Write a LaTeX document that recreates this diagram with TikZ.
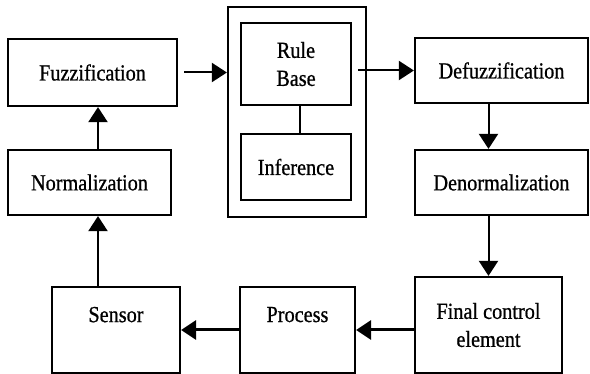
\documentclass[tikz,border=0pt]{standalone}
\usepackage{fontspec}
\setmainfont{Liberation Serif}[FakeStretch=0.88,FakeBold=0.8]
\usetikzlibrary{arrows.meta,positioning,calc}

\begin{document}
\begin{tikzpicture}[
  x=1pt, y=-1pt, >={Triangle[length=15pt,width=19pt]},
  box/.style={draw, line width=2.2pt, align=center, inner sep=0pt, font=\fontsize{23}{28}\selectfont},
  wide/.style={box, minimum width=173pt, minimum height=65pt},
  lowbox/.style={box, minimum height=86pt, text depth=31pt},
  every edge/.style={draw, ->, line width=2pt}
]
\useasboundingbox (0,0) rectangle (590,374);
% left column
\node[box, minimum width=169pt, minimum height=67pt] (fuzz) at (92.5,72.5) {Fuzzification};
\node[box, minimum width=163pt, minimum height=65pt] (norm) at (89.5,182.5) {Normalization};
\node[lowbox, minimum width=128pt] (sensor) at (116,330) {Sensor};
% inference engine
\node[box, minimum width=138pt, minimum height=210pt] (outer) at (297,112) {};
\node[box, minimum width=110pt, minimum height=82pt] (rule) at (296,64) {Rule\\Base};
\node[box, minimum width=110pt, minimum height=66pt] (infer) at (296,167) {Inference};
% right column
\node[wide] (defuzz) at (501.5,70.5) {Defuzzification};
\node[wide] (denorm) at (501.5,182.5) {Denormalization};
\node[box, minimum width=147pt, minimum height=96pt] (final) at (488.5,325) {Final control\\element};
\node[lowbox, minimum width=115pt] (proc) at (297.5,330) {Process};

\draw[line width=2pt] ($(rule.south)+(4,0)$) -- ($(rule.south |- infer.north)+(4,0)$);
\draw (fuzz.east) edge[shorten <=6pt] (fuzz.east -| outer.west);
\draw ($(outer.east |- defuzz.west)+(-9,0)$) edge (defuzz.west);
\draw (final.north |- defuzz.south) edge (final.north |- denorm.north);
\draw (final.north |- denorm.south) edge (final.north);
\draw (final.west |- proc.east) edge[line width=3pt] (proc.east);
\draw (proc.west) edge[line width=3pt] (sensor.east);
\draw ($(sensor.north)+(-18,0)$) edge ($(sensor.north |- norm.south)+(-18,0)$);
\draw ($(sensor.north |- norm.north)+(-18,0)$) edge ($(sensor.north |- fuzz.south)+(-18,0)$);
\end{tikzpicture}
\end{document}
